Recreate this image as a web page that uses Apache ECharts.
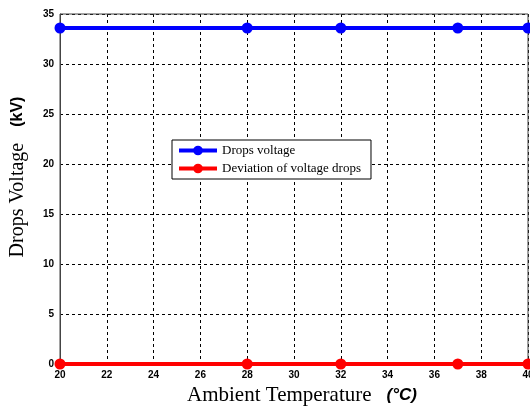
<!DOCTYPE html>
<html><head><meta charset="utf-8">
<script src="https://cdn.jsdelivr.net/npm/echarts@6/dist/echarts.min.js"></script>
<style>html,body{margin:0;padding:0;background:#fff}#c{width:530px;height:406px}</style>
</head><body><div id="c"></div>
<script>
const temps = [20, 28, 32, 37, 40];
const dropsVoltage = [33.6, 33.6, 33.6, 33.6, 33.6];
const deviation = [0, 0, 0, 0, 0];
const seriesNames = ['Drops voltage', 'Deviation of voltage drops'];

const chart = echarts.init(document.getElementById('c'));
const tickFont = {fontFamily: 'Liberation Sans Narrow, Liberation Sans, Arial', fontWeight: 'bold', fontSize: 10, color: '#000'};
chart.setOption({
  animation: false,
  backgroundColor: '#fff',
  grid: {left: 60, right: 2, top: 14, bottom: 42, containLabel: false, outerBoundsMode: 'none'},
  legend: {
    left: 172, top: 140, orient: 'vertical',
    backgroundColor: '#fff', borderColor: '#000', borderWidth: 1,
    padding: [4, 10, 4, 5], itemGap: 5, itemWidth: 38, itemHeight: 12,
    lineStyle: {width: 4},
    itemStyle: {borderWidth: 0},
    textStyle: {fontFamily: 'Liberation Serif, Times New Roman', fontSize: 13, color: '#000'},
    data: seriesNames
  },
  xAxis: {
    type: 'value', min: 20, max: 40, interval: 2,
    name: '{a|Ambient Temperature}{b|(°C)}', nameLocation: 'middle', nameGap: 19,
    nameTextStyle: {padding: [0, 0, 0, 16], rich: {
      a: {fontFamily: 'Liberation Serif, Times New Roman', fontSize: 21, color: '#000', padding: [0, 15, 0, 0]},
      b: {fontFamily: 'Liberation Sans, Arial', fontSize: 17, fontWeight: 'bold', fontStyle: 'italic', color: '#000'}
    }},
    axisLine: {show: true, lineStyle: {color: '#444', width: 1}},
    axisTick: {show: false},
    axisLabel: Object.assign({margin: 6}, tickFont),
    splitLine: {show: true, lineStyle: {color: '#000', type: [3, 3], width: 1}}
  },
  yAxis: {
    type: 'value', min: 0, max: 35, interval: 5,
    name: '{a|Drops Voltage}{b|(kV)}', nameLocation: 'middle', nameGap: 32,
    nameTextStyle: {padding: [0, 0, 0, 24], rich: {
      a: {fontFamily: 'Liberation Serif, Times New Roman', fontSize: 20, color: '#000', padding: [0, 16, 0, 0]},
      b: {fontFamily: 'Liberation Sans, Arial', fontSize: 16, fontWeight: 'bold', color: '#000'}
    }},
    axisLine: {show: true, lineStyle: {color: '#444', width: 1}},
    axisTick: {show: false},
    axisLabel: Object.assign({margin: 6}, tickFont),
    splitLine: {show: true, lineStyle: {color: '#000', type: [3, 3], width: 1}}
  },
  series: [
    {name: seriesNames[0], type: 'line', data: temps.map((t, i) => [t, dropsVoltage[i]]),
     color: '#0000ff', lineStyle: {width: 4}, symbol: 'circle', symbolSize: 11, z: 3},
    {name: seriesNames[1], type: 'line', data: temps.map((t, i) => [t, deviation[i]]),
     color: '#ff0000', lineStyle: {width: 4}, symbol: 'circle', symbolSize: 11, z: 4}
  ],
  graphic: [
    {type: 'rect', shape: {x: 60, y: 14, width: 468, height: 350}, style: {fill: 'none', stroke: '#444', lineWidth: 1}, z: 1, silent: true}
  ]
});
</script></body></html>
